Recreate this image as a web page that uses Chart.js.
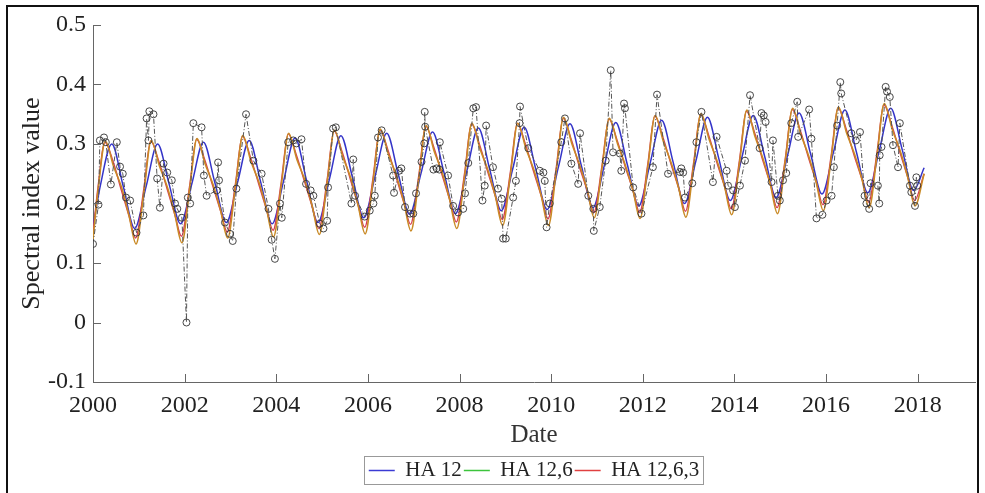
<!DOCTYPE html>
<html>
<head>
<meta charset="utf-8">
<script src="https://cdn.jsdelivr.net/npm/chart.js@4"></script>
<style>
  html, body { margin: 0; padding: 0; background: #fff; }
  #frame { position: absolute; left: 6px; top: 5px; width: 969px; height: 500px; border: 2px solid #111; border-bottom: none; }
  #myChart { position: absolute; left: 0; top: 0; }
</style>
</head>
<body>
<div id="frame"></div>
<canvas id="myChart" width="985" height="493"></canvas>
<script>
// observed spectral index
const obsTime = [
  2000.00, 2000.12, 2000.15, 2000.24, 2000.28, 2000.39, 2000.52, 2000.59, 2000.65, 2000.72, 2000.81, 2000.95,
  2001.10, 2001.17, 2001.21, 2001.23, 2001.32, 2001.40, 2001.46, 2001.54, 2001.62, 2001.72, 2001.79, 2001.84, 2001.94,
  2002.04, 2002.07, 2002.12, 2002.19, 2002.37, 2002.42, 2002.48, 2002.70, 2002.73, 2002.75, 2002.88, 2002.99,
  2003.05, 2003.13, 2003.34, 2003.50, 2003.68, 2003.83, 2003.90, 2003.97,
  2004.08, 2004.12, 2004.26, 2004.37, 2004.44, 2004.55, 2004.65, 2004.75, 2004.81, 2004.95,
  2005.03, 2005.11, 2005.13, 2005.24, 2005.30, 2005.64, 2005.68, 2005.72, 2005.93,
  2006.04, 2006.12, 2006.15, 2006.22, 2006.30, 2006.55, 2006.57, 2006.68, 2006.73, 2006.81, 2006.92, 2006.99,
  2007.05, 2007.17, 2007.23, 2007.24, 2007.25, 2007.43, 2007.50, 2007.56, 2007.57, 2007.75, 2007.86, 2007.97,
  2008.08, 2008.12, 2008.19, 2008.30, 2008.36, 2008.50, 2008.55, 2008.58, 2008.73, 2008.84, 2008.92, 2008.95,
  2009.01, 2009.17, 2009.23, 2009.31, 2009.32, 2009.50, 2009.75, 2009.83, 2009.86, 2009.90, 2009.97,
  2010.22, 2010.30, 2010.44, 2010.59, 2010.63, 2010.81, 2010.92, 2010.93,
  2011.06, 2011.19, 2011.30, 2011.35, 2011.50, 2011.53, 2011.59, 2011.61, 2011.79, 2011.97,
  2012.22, 2012.31, 2012.55, 2012.81, 2012.84, 2012.88, 2012.92,
  2013.08, 2013.17, 2013.28, 2013.53, 2013.61, 2013.83, 2013.86, 2013.97,
  2014.01, 2014.12, 2014.23, 2014.34, 2014.55, 2014.59, 2014.64, 2014.68, 2014.81, 2014.84, 2014.95, 2014.99,
  2015.06, 2015.13, 2015.24, 2015.37, 2015.39, 2015.63, 2015.68, 2015.79, 2015.92,
  2016.01, 2016.12, 2016.17, 2016.24, 2016.31, 2016.33, 2016.55, 2016.65, 2016.74, 2016.84, 2016.88, 2016.94, 2016.97,
  2017.13, 2017.16, 2017.17, 2017.21, 2017.30, 2017.33, 2017.39, 2017.46, 2017.57, 2017.61, 2017.83, 2017.86, 2017.94, 2017.97, 2017.99
];
const obsValue = [
  0.132, 0.198, 0.306, 0.311, 0.303, 0.232, 0.303, 0.262, 0.250, 0.210, 0.205, 0.151,
  0.180, 0.343, 0.306, 0.355, 0.350, 0.242, 0.193, 0.267, 0.252, 0.239, 0.200, 0.191, 0.176,
  0.000, 0.210, 0.200, 0.335, 0.328, 0.247, 0.213, 0.222, 0.269, 0.239, 0.168, 0.149,
  0.137, 0.225, 0.350, 0.272, 0.250, 0.191, 0.139, 0.107,
  0.200, 0.176, 0.303, 0.306, 0.301, 0.308, 0.233, 0.222, 0.213, 0.166,
  0.158, 0.171, 0.227, 0.326, 0.328, 0.200, 0.274, 0.213, 0.178,
  0.188, 0.200, 0.213, 0.311, 0.323, 0.247, 0.218, 0.255, 0.259, 0.194, 0.183, 0.183,
  0.217, 0.270, 0.301, 0.354, 0.329, 0.257, 0.259, 0.257, 0.303, 0.247, 0.196, 0.185,
  0.191, 0.217, 0.268, 0.360, 0.362, 0.205, 0.230, 0.331, 0.261, 0.225, 0.208, 0.141,
  0.141, 0.210, 0.238, 0.335, 0.363, 0.293, 0.255, 0.252, 0.238, 0.160, 0.200,
  0.303, 0.343, 0.267, 0.233, 0.318, 0.213, 0.191, 0.154,
  0.194, 0.272, 0.424, 0.286, 0.284, 0.255, 0.368, 0.360, 0.227, 0.183,
  0.261, 0.383, 0.250, 0.253, 0.259, 0.252, 0.210,
  0.234, 0.303, 0.354, 0.236, 0.312, 0.255, 0.230, 0.222,
  0.194, 0.230, 0.272, 0.382, 0.293, 0.352, 0.348, 0.337, 0.236, 0.306, 0.213, 0.205,
  0.239, 0.251, 0.335, 0.371, 0.312, 0.358, 0.309, 0.175, 0.181,
  0.205, 0.213, 0.261, 0.331, 0.404, 0.385, 0.318, 0.306, 0.320, 0.213, 0.200, 0.191, 0.234,
  0.230, 0.200, 0.281, 0.295, 0.396, 0.388, 0.379, 0.298, 0.261, 0.335, 0.230, 0.219, 0.196, 0.244, 0.230
];

// HA 12 fit
const ha12Time = [
  2000.00, 2000.16, 2000.41, 2000.66, 2000.91,
  2001.16, 2001.41, 2001.66, 2001.91,
  2002.16, 2002.41, 2002.66, 2002.91,
  2003.16, 2003.41, 2003.66, 2003.91,
  2004.16, 2004.41, 2004.66, 2004.91,
  2005.16, 2005.41, 2005.66, 2005.91,
  2006.16, 2006.41, 2006.66, 2006.91,
  2007.16, 2007.41, 2007.66, 2007.91,
  2008.16, 2008.41, 2008.66, 2008.91,
  2009.16, 2009.41, 2009.66, 2009.91,
  2010.16, 2010.41, 2010.66, 2010.91,
  2011.16, 2011.41, 2011.66, 2011.91,
  2012.16, 2012.41, 2012.66, 2012.91,
  2013.16, 2013.41, 2013.66, 2013.91,
  2014.16, 2014.41, 2014.66, 2014.91,
  2015.16, 2015.41, 2015.66, 2015.91,
  2016.16, 2016.41, 2016.66, 2016.91,
  2017.16, 2017.41, 2017.66, 2017.91,
  2018.14
];
const ha12Value = [
  0.160, 0.230, 0.300, 0.229, 0.158,
  0.229, 0.300, 0.233, 0.166,
  0.234, 0.303, 0.235, 0.168,
  0.237, 0.306, 0.236, 0.166,
  0.238, 0.310, 0.239, 0.168,
  0.241, 0.314, 0.245, 0.176,
  0.247, 0.318, 0.250, 0.182,
  0.251, 0.320, 0.252, 0.183,
  0.255, 0.327, 0.257, 0.188,
  0.258, 0.328, 0.259, 0.190,
  0.262, 0.334, 0.263, 0.193,
  0.264, 0.336, 0.266, 0.196,
  0.268, 0.340, 0.270, 0.200,
  0.272, 0.345, 0.275, 0.205,
  0.277, 0.348, 0.279, 0.210,
  0.281, 0.352, 0.284, 0.216,
  0.286, 0.357, 0.287, 0.218,
  0.289, 0.360, 0.291, 0.222,
  0.260
];

// HA 12,6 fit
const ha126Time = [
  2000.00, 2000.11, 2000.27, 2000.45, 2000.62, 2000.78, 2000.94,
  2001.11, 2001.27, 2001.45, 2001.62, 2001.78, 2001.94,
  2002.11, 2002.27, 2002.45, 2002.62, 2002.78, 2002.94,
  2003.11, 2003.27, 2003.45, 2003.62, 2003.78, 2003.94,
  2004.11, 2004.27, 2004.45, 2004.62, 2004.78, 2004.94,
  2005.11, 2005.27, 2005.45, 2005.62, 2005.78, 2005.94,
  2006.11, 2006.27, 2006.45, 2006.62, 2006.78, 2006.94,
  2007.11, 2007.27, 2007.45, 2007.62, 2007.78, 2007.94,
  2008.11, 2008.27, 2008.45, 2008.62, 2008.78, 2008.94,
  2009.11, 2009.27, 2009.45, 2009.62, 2009.78, 2009.94,
  2010.11, 2010.27, 2010.45, 2010.62, 2010.78, 2010.94,
  2011.11, 2011.27, 2011.45, 2011.62, 2011.78, 2011.94,
  2012.11, 2012.27, 2012.45, 2012.62, 2012.78, 2012.94,
  2013.11, 2013.27, 2013.45, 2013.62, 2013.78, 2013.94,
  2014.11, 2014.27, 2014.45, 2014.62, 2014.78, 2014.94,
  2015.11, 2015.27, 2015.45, 2015.62, 2015.78, 2015.94,
  2016.11, 2016.27, 2016.45, 2016.62, 2016.78, 2016.94,
  2017.11, 2017.27, 2017.45, 2017.62, 2017.78, 2017.94,
  2018.14
];
const ha126Value = [
  0.140, 0.222, 0.305, 0.262, 0.228, 0.182, 0.132,
  0.218, 0.306, 0.263, 0.228, 0.184, 0.134,
  0.225, 0.309, 0.266, 0.232, 0.190, 0.142,
  0.229, 0.314, 0.270, 0.236, 0.193, 0.144,
  0.231, 0.318, 0.274, 0.240, 0.197, 0.148,
  0.235, 0.323, 0.279, 0.244, 0.199, 0.149,
  0.236, 0.325, 0.282, 0.247, 0.204, 0.154,
  0.241, 0.331, 0.287, 0.252, 0.208, 0.158,
  0.245, 0.335, 0.291, 0.256, 0.213, 0.163,
  0.248, 0.335, 0.292, 0.257, 0.214, 0.163,
  0.254, 0.345, 0.301, 0.265, 0.225, 0.176,
  0.260, 0.343, 0.300, 0.264, 0.224, 0.175,
  0.262, 0.348, 0.304, 0.268, 0.227, 0.177,
  0.264, 0.351, 0.307, 0.272, 0.230, 0.181,
  0.268, 0.357, 0.312, 0.276, 0.233, 0.183,
  0.272, 0.360, 0.316, 0.280, 0.237, 0.188,
  0.275, 0.362, 0.318, 0.283, 0.242, 0.193,
  0.280, 0.368, 0.323, 0.288, 0.245, 0.196,
  0.250
];

// HA 12,6,3 fit
const ha1263Time = [
  2000.00, 2000.11, 2000.26, 2000.44, 2000.62, 2000.79, 2000.93,
  2001.11, 2001.26, 2001.44, 2001.62, 2001.79, 2001.93,
  2002.11, 2002.26, 2002.44, 2002.62, 2002.79, 2002.93,
  2003.11, 2003.26, 2003.44, 2003.62, 2003.79, 2003.93,
  2004.11, 2004.26, 2004.44, 2004.62, 2004.79, 2004.93,
  2005.11, 2005.26, 2005.44, 2005.62, 2005.79, 2005.93,
  2006.11, 2006.26, 2006.44, 2006.62, 2006.79, 2006.93,
  2007.11, 2007.26, 2007.44, 2007.62, 2007.79, 2007.93,
  2008.11, 2008.26, 2008.44, 2008.62, 2008.79, 2008.93,
  2009.11, 2009.26, 2009.44, 2009.62, 2009.79, 2009.93,
  2010.11, 2010.26, 2010.44, 2010.62, 2010.79, 2010.93,
  2011.11, 2011.26, 2011.44, 2011.62, 2011.79, 2011.93,
  2012.11, 2012.26, 2012.44, 2012.62, 2012.79, 2012.93,
  2013.11, 2013.26, 2013.44, 2013.62, 2013.79, 2013.93,
  2014.11, 2014.26, 2014.44, 2014.62, 2014.79, 2014.93,
  2015.11, 2015.26, 2015.44, 2015.62, 2015.79, 2015.93,
  2016.11, 2016.26, 2016.44, 2016.62, 2016.79, 2016.93,
  2017.11, 2017.26, 2017.44, 2017.62, 2017.79, 2017.93,
  2018.14
];
const ha1263Value = [
  0.150, 0.228, 0.303, 0.270, 0.222, 0.178, 0.142,
  0.225, 0.305, 0.270, 0.224, 0.180, 0.145,
  0.230, 0.308, 0.273, 0.228, 0.186, 0.152,
  0.234, 0.313, 0.277, 0.232, 0.189, 0.155,
  0.237, 0.317, 0.281, 0.236, 0.193, 0.158,
  0.240, 0.322, 0.286, 0.240, 0.196, 0.160,
  0.242, 0.324, 0.289, 0.243, 0.200, 0.165,
  0.247, 0.330, 0.294, 0.248, 0.205, 0.169,
  0.251, 0.334, 0.298, 0.252, 0.210, 0.173,
  0.253, 0.335, 0.299, 0.253, 0.211, 0.174,
  0.260, 0.343, 0.307, 0.261, 0.221, 0.185,
  0.264, 0.342, 0.306, 0.261, 0.221, 0.185,
  0.267, 0.347, 0.311, 0.265, 0.224, 0.187,
  0.269, 0.350, 0.314, 0.268, 0.227, 0.191,
  0.273, 0.355, 0.319, 0.272, 0.231, 0.193,
  0.276, 0.358, 0.322, 0.276, 0.235, 0.198,
  0.280, 0.361, 0.325, 0.279, 0.239, 0.202,
  0.285, 0.366, 0.330, 0.284, 0.242, 0.205,
  0.250
];

const seriesNames = ["HA 12", "HA 12,6", "HA 12,6,3"];
const legendColors = ["#3b3bd4", "#3cc43c", "#e04040"];
const yTicks = [-0.1, 0, 0.1, 0.2, 0.3, 0.4, 0.5];

function toPoints(times, values) {
  return times.map((t, i) => ({ x: t, y: values[i] }));
}

const serif = "'Liberation Serif', 'Times New Roman', serif";

// MATLAB style inward ticks + box round the legend
const innerTicks = {
  id: "innerTicks",
  afterDraw(chart) {
    const ctx = chart.ctx;
    const xs = chart.scales.x;
    const ys = chart.scales.y;
    ctx.save();
    ctx.strokeStyle = "#666";
    ctx.lineWidth = 1;
    ctx.beginPath();
    xs.ticks.forEach((t) => {
      const px = Math.round(xs.getPixelForValue(t.value)) + 0.5;
      ctx.moveTo(px, ys.bottom);
      ctx.lineTo(px, ys.bottom - 8);
    });
    ys.ticks.forEach((t) => {
      const py = Math.round(ys.getPixelForValue(t.value)) + 0.5;
      ctx.moveTo(xs.left, py);
      ctx.lineTo(xs.left + 8, py);
    });
    ctx.stroke();

    const boxes = chart.legend.legendHitBoxes;
    if (boxes && boxes.length) {
      const l = Math.min(...boxes.map((b) => b.left)) - 5;
      const r = Math.max(...boxes.map((b) => b.left + b.width)) + 4;
      const t = Math.min(...boxes.map((b) => b.top)) - 4;
      const b2 = Math.max(...boxes.map((b) => b.top + b.height)) + 3;
      ctx.strokeStyle = "#999";
      ctx.strokeRect(Math.round(l) + 0.5, Math.round(t) + 0.5, Math.round(r - l), Math.round(b2 - t));
    }
    ctx.restore();
  },
};

const ctx = document.getElementById("myChart").getContext("2d");
const myChart = new Chart(ctx, {
  type: "line",
  data: {
    datasets: [
      {
        label: "Observed",
        data: toPoints(obsTime, obsValue),
        borderColor: "#555",
        borderWidth: 1,
        borderDash: [5, 2, 1, 2],
        pointRadius: 3.5,
        pointBorderColor: "#333",
        pointBorderWidth: 0.9,
        pointBackgroundColor: "rgba(0,0,0,0)",
        fill: false,
        order: 0,
      },
      {
        label: seriesNames[0],
        data: toPoints(ha12Time, ha12Value),
        borderColor: "#3434c8",
        borderWidth: 1.5,
        pointRadius: 0,
        cubicInterpolationMode: "monotone",
        fill: false,
        order: 3,
      },
      {
        label: seriesNames[1],
        data: toPoints(ha126Time, ha126Value),
        borderColor: "#c98a26",
        borderWidth: 1.6,
        pointRadius: 0,
        cubicInterpolationMode: "monotone",
        fill: false,
        order: 1,
      },
      {
        label: seriesNames[2],
        data: toPoints(ha1263Time, ha1263Value),
        borderColor: "#d63a55",
        borderWidth: 1.4,
        pointRadius: 0,
        cubicInterpolationMode: "monotone",
        fill: false,
        order: 2,
      },
    ],
  },
  options: {
    responsive: false,
    animation: false,
    layout: { padding: { left: 0, right: 10, top: 25, bottom: 2 } },
    scales: {
      x: {
        type: "linear",
        min: 2000,
        max: 2019.25,
        afterFit: (s) => { s.height = 76; },
        ticks: {
          stepSize: 2,
          includeBounds: false,
          autoSkip: false,
          maxRotation: 0,
          padding: 9,
          color: "#222",
          font: { family: serif, size: 24 },
          callback: (v) => String(v),
        },
        grid: { display: false, drawTicks: false },
        border: { display: true, color: "#666", width: 1 },
        title: {
          display: true,
          text: "Date",
          color: "#333",
          font: { family: serif, size: 25 },
          padding: { top: 0, bottom: 8 },
        },
      },
      y: {
        min: -0.1,
        max: 0.5,
        afterFit: (s) => { s.width = 93; },
        afterBuildTicks: (s) => { s.ticks = yTicks.map((v) => ({ value: v })); },
        ticks: {
          padding: 7,
          color: "#222",
          font: { family: serif, size: 24 },
          callback: (v) => String(Math.round(v * 10) / 10),
        },
        grid: { display: false, drawTicks: false },
        border: { display: true, color: "#666", width: 1 },
        title: {
          display: true,
          text: "Spectral index value",
          color: "#222",
          font: { family: serif, size: 26 },
          padding: { top: 17, bottom: 0 },
        },
      },
    },
    plugins: {
      legend: {
        position: "bottom",
        fullSize: false,
        labels: {
          usePointStyle: true,
          pointStyle: "line",
          pointStyleWidth: 26,
          boxWidth: 26,
          padding: 2,
          color: "#222",
          font: { family: serif, size: 21 },
          generateLabels(chart) {
            const items = Chart.defaults.plugins.legend.labels.generateLabels(chart);
            return items
              .filter((it) => it.datasetIndex > 0)
              .sort((a, b) => a.datasetIndex - b.datasetIndex)
              .map((it) => {
                it.strokeStyle = legendColors[it.datasetIndex - 1];
                it.lineWidth = 1.5;
                it.pointStyle = "line";
                return it;
              });
          },
        },
      },
      tooltip: { enabled: false },
    },
  },
  plugins: [innerTicks],
});
</script>
</body>
</html>
